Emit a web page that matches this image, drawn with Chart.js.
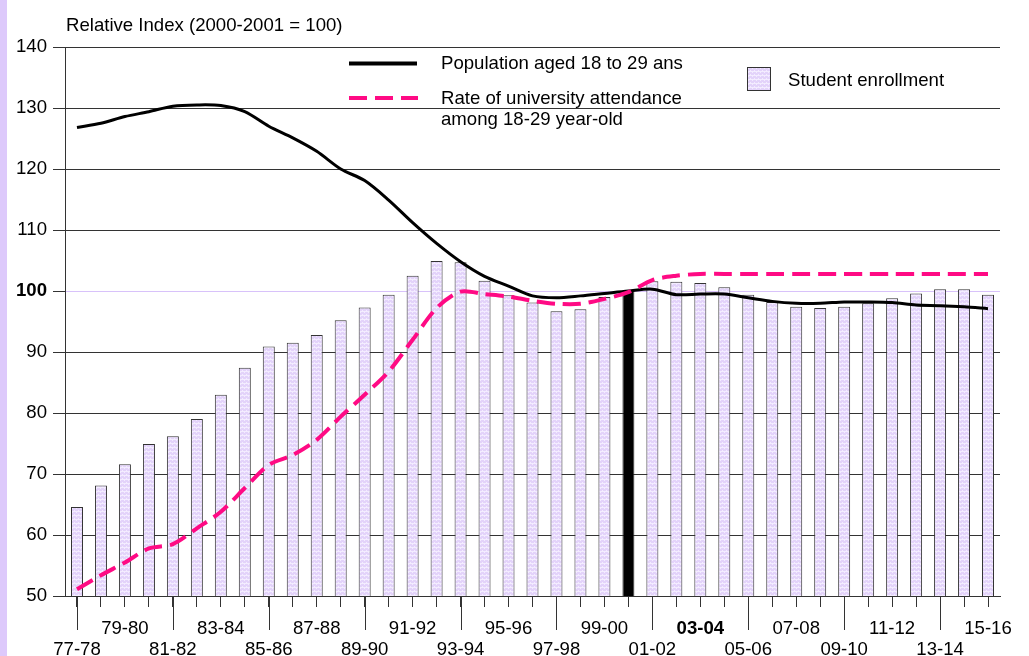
<!DOCTYPE html>
<html>
<head>
<meta charset="utf-8">
<script src="https://cdn.jsdelivr.net/npm/chart.js@4/dist/chart.umd.min.js"></script>
<style>
  html, body { margin: 0; padding: 0; background: #fff; }
  #wrap { position: relative; width: 1029px; height: 656px; overflow: hidden; }
  #strip { position: absolute; left: 0; top: 0; width: 7px; height: 656px; background: #DDC9FB; }
  canvas { position: absolute; left: 0; top: 0; }
</style>
</head>
<body>
<div id="wrap"><div id="strip"></div><canvas id="myChart" width="1029" height="656"></canvas></div>
<script>
const categories = ['77-78', '78-79', '79-80', '80-81', '81-82', '82-83', '83-84', '84-85', '85-86', '86-87',
  '87-88', '88-89', '89-90', '90-91', '91-92', '92-93', '93-94', '94-95', '95-96', '96-97',
  '97-98', '98-99', '99-00', '00-01', '01-02', '02-03', '03-04', '04-05', '05-06', '06-07',
  '07-08', '08-09', '09-10', '10-11', '11-12', '12-13', '13-14', '14-15', '15-16'];

// student enrollment (bars), 00-01 = 100
const enrollment = [64.6, 68.1, 71.6, 74.9, 76.2, 79.0, 83.0, 87.4, 90.9, 91.5,
  92.8, 95.2, 97.3, 99.4, 102.5, 104.9, 104.7, 101.7, 99.3, 98.1,
  96.7, 97.0, 99.0, 100, 101.6, 101.5, 101.3, 100.6, 99.4, 98.2,
  97.4, 97.2, 97.4, 98.0, 98.8, 99.6, 100.3, 100.3, 99.4];

// population aged 18 to 29
const population = [126.8, 127.5, 128.6, 129.4, 130.3, 130.5, 130.4, 129.4, 127.0, 125.1,
  122.9, 120.0, 118.1, 114.9, 111.2, 107.8, 104.8, 102.4, 100.8, 99.2,
  98.9, 99.2, 99.6, 100.0, 100.3, 99.4, 99.5, 99.5, 98.9, 98.3,
  98.0, 98.0, 98.2, 98.2, 98.1, 97.7, 97.6, 97.4, 97.1];

// rate of university attendance among 18-29
const attendance = [51.1, 53.4, 55.5, 57.8, 58.5, 61.1, 63.8, 67.7, 71.5, 73.1,
  75.6, 79.4, 83.0, 86.8, 92.0, 97.2, 99.9, 99.5, 99.1, 98.4,
  97.9, 97.9, 98.7, 99.8, 101.8, 102.5, 102.8, 102.8, 102.8, 102.8,
  102.8, 102.8, 102.8, 102.8, 102.8, 102.8, 102.8, 102.8, 102.8];

const yTicks = [50, 60, 70, 80, 90, 100, 110, 120, 130, 140];
const baseYear = '00-01';
const boldLabel = '03-04';

const FONT = '"Liberation Sans", Arial, sans-serif';
const FSIZE = 18.6;
const PINK = '#FF0A84';

const canvas = document.getElementById('myChart');
const ctx0 = canvas.getContext('2d');

function barPattern() {
  const c = document.createElement('canvas');
  c.width = 4; c.height = 4;
  const g = c.getContext('2d');
  g.fillStyle = '#E3D3FA';
  g.fillRect(0, 0, 4, 4);
  g.fillStyle = '#F3ECFF';
  g.fillRect(0, 0, 1, 1);
  g.fillRect(2, 2, 1, 1);
  g.fillRect(0, 3, 4, 1);
  return ctx0.createPattern(c, 'repeat');
}
const pattern = barPattern();

const extras = {
  id: 'extras',
  afterDraw(chart) {
    const ctx = chart.ctx;
    const x = chart.scales.x;
    const area = chart.chartArea;
    ctx.save();

    // longer ticks every 4 years
    ctx.strokeStyle = '#333';
    ctx.lineWidth = 1;
    categories.forEach((c, i) => {
      if (i % 4 !== 0) return;
      const px = Math.round(x.getPixelForValue(i)) + 0.5;
      ctx.beginPath();
      ctx.moveTo(px, area.bottom);
      ctx.lineTo(px, area.bottom + 34);
      ctx.stroke();
    });

    ctx.fillStyle = '#000';
    ctx.font = FSIZE + 'px ' + FONT;
    ctx.textBaseline = 'alphabetic';
    ctx.textAlign = 'left';
    ctx.fillText('Relative Index (2000-2001 = 100)', area.left + 1, 31);

    // legend
    ctx.textBaseline = 'middle';
    ctx.lineWidth = 4;
    ctx.strokeStyle = '#000';
    ctx.beginPath(); ctx.moveTo(349, 63.5); ctx.lineTo(417, 63.5); ctx.stroke();
    ctx.fillText('Population aged 18 to 29 ans', 441, 64);

    ctx.strokeStyle = PINK;
    ctx.setLineDash([18, 8]);
    ctx.beginPath(); ctx.moveTo(349, 98); ctx.lineTo(418, 98); ctx.stroke();
    ctx.setLineDash([]);
    ctx.fillText('Rate of university attendance', 441, 99);
    ctx.fillText('among 18-29 year-old', 441, 120);

    ctx.fillStyle = pattern;
    ctx.fillRect(747, 67, 24, 24);
    ctx.lineWidth = 1;
    ctx.strokeStyle = '#333';
    ctx.strokeRect(747.5, 67.5, 23, 23);
    ctx.fillStyle = '#000';
    ctx.fillText('Student enrollment', 788, 81);

    ctx.restore();
  }
};

new Chart(canvas, {
  type: 'bar',
  data: {
    labels: categories,
    datasets: [{
      type: 'line',
      label: 'Population aged 18 to 29 ans',
      data: population,
      borderColor: '#000',
      borderWidth: 3,
      pointRadius: 0,
      tension: 0.3,
      order: 1
    }, {
      type: 'line',
      label: 'Rate of university attendance among 18-29 year-old',
      data: attendance,
      borderColor: PINK,
      borderWidth: 4,
      borderDash: [18, 8],
      pointRadius: 0,
      tension: 0.3,
      order: 0
    }, {
      label: 'Student enrollment',
      data: enrollment,
      backgroundColor: ctx => categories[ctx.dataIndex] === baseYear ? '#000' : pattern,
      borderColor: '#333',
      borderWidth: 1,
      barPercentage: 0.5,
      categoryPercentage: 1,
      order: 2
    }]
  },
  options: {
    responsive: false,
    animation: false,
    layout: { padding: { top: 47, right: 29, left: 0, bottom: 0 } },
    plugins: {
      legend: { display: false },
      tooltip: { enabled: false }
    },
    scales: {
      x: {
        offset: true,
        grid: {
          offset: false,
          drawOnChartArea: false,
          drawTicks: true,
          tickLength: 11,
          color: '#333',
          tickColor: '#333'
        },
        border: { display: true, color: '#333', width: 1 },
        ticks: {
          autoSkip: false,
          maxRotation: 0,
          minRotation: 0,
          padding: 11,
          color: '#000',
          font: ctx => ({
            family: FONT,
            size: FSIZE,
            lineHeight: '21px',
            weight: categories[ctx.index] === boldLabel ? 'bold' : 'normal'
          }),
          callback: function (value, index) {
            if (index % 4 === 0) return ['', categories[index]];
            if (index % 4 === 2) return [categories[index]];
            return '';
          }
        },
        afterFit: scale => { scale.height = 60; }
      },
      y: {
        min: yTicks[0],
        max: yTicks[yTicks.length - 1],
        afterBuildTicks: scale => { scale.ticks = yTicks.map(v => ({ value: v })); },
        grid: {
          color: ctx => (ctx.tick && ctx.tick.value === 100) ? '#D8C2FA' : '#333',
          tickColor: '#333',
          tickLength: 12,
          lineWidth: 1
        },
        border: { display: true, color: '#333', width: 1 },
        ticks: {
          padding: 6,
          color: '#000',
          font: ctx => ({
            family: FONT,
            size: FSIZE,
            weight: (ctx.tick && ctx.tick.value === 100) ? 'bold' : 'normal'
          })
        },
        afterFit: scale => { scale.width = 65; }
      }
    }
  },
  plugins: [extras]
});
</script>
</body>
</html>
